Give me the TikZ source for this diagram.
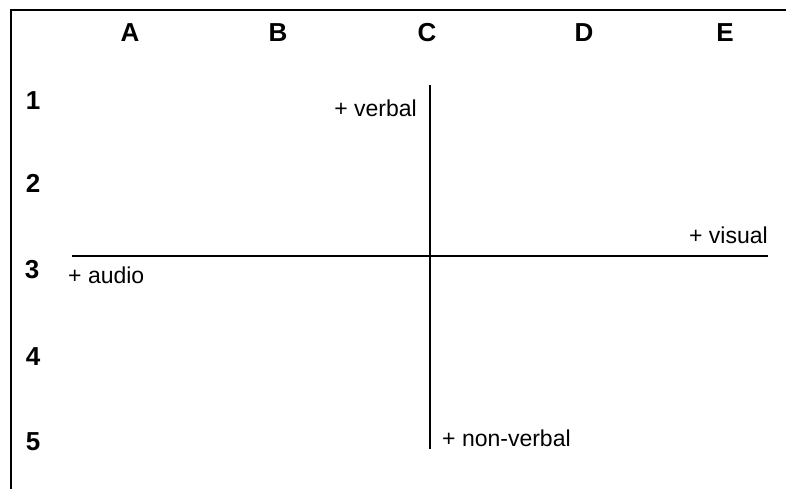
\documentclass[tikz,border=0pt]{standalone}
\usepackage{fontspec}
\setmainfont{Liberation Sans}
\usetikzlibrary{positioning}

\begin{document}
\begin{tikzpicture}[x=1pt,y=-1pt,
  head/.style={inner sep=0pt,anchor=base,font=\fontsize{26}{30}\selectfont\bfseries},
  pole/.style={inner sep=0pt,font=\fontsize{23}{28}\selectfont},
  axis/.style={line width=2.5pt}]
\useasboundingbox (0,0) rectangle (786,489);
% frame
\draw[axis] (11,489)--(11,10)--(786,10);
% column and row heads
\node[head] (ca) at (130,42) {A};
\node[head] (cb) at (278,42) {B};
\node[head] (cc) at (427,42) {C};
\node[head] (cd) at (584,42) {D};
\node[head] (ce) at (725,42) {E};
\node[head] (r1) at (33,110) {1};
\node[head] (r2) at (33,193) {2};
\node[head] (r3) at (32,278) {3};
\node[head] (r4) at (33,365) {4};
\node[head] (r5) at (33,450) {5};
% axes
\coordinate (vtop) at (430,85);
\coordinate (vbot) at (430,449);
\coordinate (hleft) at (72,256);
\coordinate (hright) at (768,256);
\draw[axis] (vtop)--(vbot);
\draw[axis] (hleft)--(hright);
\node[pole,anchor=base east] (verbal) at (417,117) {+ verbal};
\node[pole,anchor=base east] (visual) at (768,243) {+ visual};
\node[pole,anchor=base west] (audio) at (68,283) {+ audio};
\node[pole,anchor=base west] (nonverbal) at (442,446) {+ non-verbal};
\end{tikzpicture}
\end{document}
